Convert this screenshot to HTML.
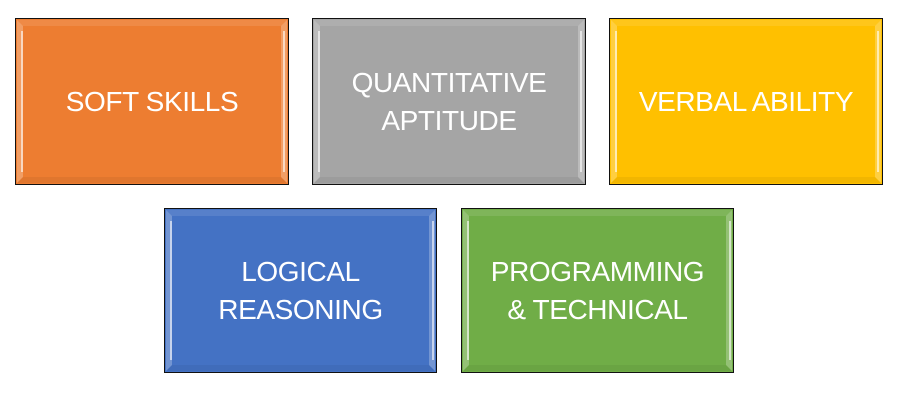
<!DOCTYPE html>
<html><head><meta charset="utf-8"><style>
body{margin:0;width:900px;height:400px;background:#fff;position:relative;overflow:hidden;font-family:"Liberation Sans",sans-serif}
.b{position:absolute;box-sizing:border-box;border:1px solid #111;display:flex;align-items:center;justify-content:center;text-align:center;color:#fff;font-size:28px;line-height:38px;letter-spacing:-0.4px}
.b::before{content:"";position:absolute;inset:1px;border:6px solid transparent;border-left-color:rgba(255,255,255,0.25);border-right-color:rgba(255,255,255,0.25);border-top-color:rgba(255,255,255,0.1);border-bottom-color:rgba(0,0,0,0.05);pointer-events:none}
.b::after{content:"";position:absolute;left:5px;top:12px;bottom:12px;width:2px;background:rgba(255,255,255,0.6);box-shadow:262px 0 0 rgba(255,255,255,0.6)}
.b span{position:relative}
</style></head><body>
<div class="b" style="left:15px;top:18px;width:274px;height:167px;background:#ED7D31"><span>SOFT SKILLS</span></div>
<div class="b" style="left:312px;top:18px;width:274px;height:167px;background:#A5A5A5"><span>QUANTITATIVE<br>APTITUDE</span></div>
<div class="b" style="left:609px;top:18px;width:274px;height:167px;background:#FFC000"><span>VERBAL ABILITY</span></div>
<div class="b" style="left:164px;top:208px;width:273px;height:165px;background:#4472C4"><span>LOGICAL<br>REASONING</span></div>
<div class="b" style="left:461px;top:208px;width:273px;height:165px;background:#70AD47"><span>PROGRAMMING<br>&amp; TECHNICAL</span></div>
</body></html>
